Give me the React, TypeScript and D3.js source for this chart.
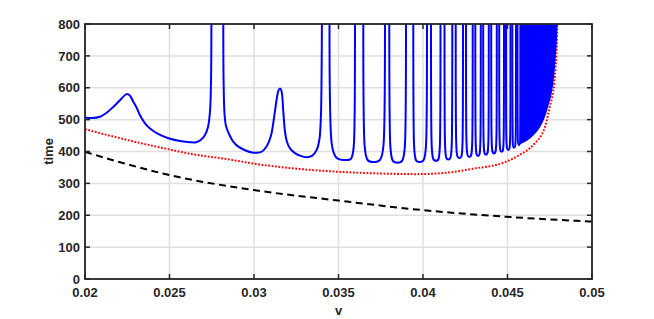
import React from 'react';
import * as d3 from 'd3';

const W = 654;
const H = 319;
const plot = { left: 85, right: 592, top: 24, bottom: 279 };

const xTicks = [0.02, 0.025, 0.03, 0.035, 0.04, 0.045, 0.05];
const xTickLabels = ['0.02', '0.025', '0.03', '0.035', '0.04', '0.045', '0.05'];
const yTicks = [0, 100, 200, 300, 400, 500, 600, 700, 800];

// blue: start of the curve up to the first wall that leaves the top
const headV = [0.02, 0.020414, 0.020888, 0.021243, 0.021657, 0.022071, 0.022467, 0.022663, 0.022858, 0.023077,
  0.023254, 0.023651, 0.024024, 0.024438, 0.02503, 0.025621, 0.026213, 0.026568, 0.026864, 0.027101,
  0.027278, 0.027396, 0.027456, 0.027479];
const headT = [507, 505, 509, 520, 539, 561, 580, 575, 556, 535,
  514, 482, 465, 452, 440, 433, 429, 429, 437, 452,
  477, 525, 620, 800];

// blue: back down from the top, the bump near 0.0315, up again at 0.034
const midV = [0.028183, 0.028201, 0.028254, 0.028343, 0.028521, 0.028757, 0.029053, 0.029467, 0.029882, 0.030178,
  0.030473, 0.030769, 0.031006, 0.031183, 0.031331, 0.03145, 0.031538, 0.031627, 0.031734, 0.031834,
  0.031953, 0.03213, 0.032426, 0.032722, 0.033118, 0.033432, 0.03371, 0.033876, 0.033964, 0.034, 0.034018];
const midT = [800, 620, 520, 480, 455, 432, 416, 404, 397, 396,
  400, 418, 450, 505, 560, 592, 598, 590, 525, 462,
  430, 410, 395, 387, 382, 386, 405, 440, 520, 650, 800];

// blue: wells between the spikes (wall coming down, bottom, wall going up)
const wellDown = [0.034467, 0.036467, 0.038006, 0.039426, 0.040473, 0.041272, 0.041935, 0.042544,
  0.043095, 0.043562, 0.044036, 0.044509, 0.044911, 0.045284, 0.045592];
const wellMinV = [0.035485, 0.037059, 0.038479, 0.039781, 0.040769, 0.041497, 0.04216, 0.042751,
  0.043254, 0.043728, 0.044201, 0.044657, 0.045047, 0.045385, 0.04568];
const wellMinT = [373, 367, 365, 367, 371, 375, 379, 383, 386, 390, 394, 399, 405, 412, 420];
const wellUp = [0.035976, 0.037751, 0.038994, 0.040237, 0.041036, 0.041734, 0.042367, 0.042941,
  0.04342, 0.043893, 0.044367, 0.044793, 0.045178, 0.045503, 0.045769];

// blue: lower edge of the packed spikes near the end
const bandV = [0.045769, 0.045976, 0.046213, 0.046509, 0.046805, 0.047041, 0.047249, 0.047426, 0.047604,
  0.047722, 0.047811, 0.047882, 0.047917];
const bandT = [426, 431, 439, 452, 470, 492, 520, 552, 592, 640, 695, 755, 800];

const redV = [0.02, 0.022663, 0.02503, 0.026213, 0.028402, 0.03, 0.03213, 0.034497, 0.036864, 0.039586,
  0.041302, 0.042959, 0.044817, 0.04574, 0.046509, 0.047219, 0.047544, 0.04771, 0.04784, 0.047911, 0.047947];
const redT = [470, 434, 406, 393, 376, 362, 348, 338, 332, 329,
  333, 346, 366, 390, 420, 478, 550, 590, 660, 720, 800];

const blackV = [0.02, 0.0225, 0.025, 0.03, 0.035, 0.04, 0.045, 0.05];
const blackT = [399, 360, 326, 279, 246, 216, 195, 180];

const font = '"Liberation Sans", Arial, Helvetica, sans-serif';
const axisColor = '#262626';

export default function App() {
  const x = d3.scaleLinear().domain([0.02, 0.05]).range([plot.left, plot.right]);
  const y = d3.scaleLinear().domain([0, 800]).range([plot.bottom, plot.top]);

  const smooth = d3.line<number>()
    .curve(d3.curveCatmullRom.alpha(0.5));

  const headPath = smooth(headV.map((v, i) => [x(v), y(headT[i])]) as any);
  const midPath = smooth(midV.map((v, i) => [x(v), y(midT[i])]) as any);

  const wellPaths = wellDown.map((v, i) => {
    const xr = x(v);
    const xm = x(wellMinV[i]);
    const xl = x(wellUp[i]);
    const yt = y(800);
    const ym = y(wellMinT[i]);
    const p = d3.path();
    p.moveTo(xr, yt - 4);
    p.lineTo(xr, yt);
    p.bezierCurveTo(xr, ym, xr, ym, xm, ym);
    p.bezierCurveTo(xl, ym, xl, ym, xl, yt);
    p.lineTo(xl, yt - 4);
    return p.toString();
  });

  const bandPath = d3.area<number>()
    .x(v => x(v))
    .y0(y(800) - 4)
    .y1((v, i) => y(bandT[i]))
    .curve(d3.curveMonotoneX)(bandV);

  const redPath = d3.line<number>()
    .x(v => x(v))
    .y((v, i) => y(redT[i]))
    .curve(d3.curveMonotoneX)(redV);

  const blackPath = d3.line<number>()
    .x(v => x(v))
    .y((v, i) => y(blackT[i]))
    .curve(d3.curveMonotoneX)(blackV);

  const tickLen = 5;

  return (
    <svg width={W} height={H} style={{ position: 'absolute', left: 0, top: 0, background: '#fff' }}>
      <defs>
        <clipPath id="plotClip">
          <rect x={plot.left} y={plot.top} width={plot.right - plot.left} height={plot.bottom - plot.top} />
        </clipPath>
      </defs>
      <rect x={0} y={0} width={W} height={H} fill="#fff" />
      <g>
        {xTicks.map(t => (
          <line key={'gx' + t} x1={x(t)} x2={x(t)} y1={plot.top} y2={plot.bottom} stroke="#dfdfdf" strokeWidth={1.5} />
        ))}
        {yTicks.map(t => (
          <line key={'gy' + t} x1={plot.left} x2={plot.right} y1={y(t)} y2={y(t)} stroke="#dfdfdf" strokeWidth={1.5} />
        ))}
      </g>
      <g clipPath="url(#plotClip)">
        <path d={blackPath || ''} fill="none" stroke="#000" strokeWidth={2} strokeDasharray="7,4.5" />
        <path d={redPath || ''} fill="none" stroke="#ff0000" strokeWidth={2} strokeDasharray="1.8,1.6" />
        <path d={headPath || ''} fill="none" stroke="#0000ff" strokeWidth={2} />
        <path d={midPath || ''} fill="none" stroke="#0000ff" strokeWidth={2} />
        {wellPaths.map((d, i) => (
          <path key={'w' + i} d={d} fill="none" stroke="#0000ff" strokeWidth={2} />
        ))}
        <path d={bandPath || ''} fill="#0000ff" stroke="#0000ff" strokeWidth={1.5} />
      </g>
      <g stroke={axisColor} strokeWidth={1.5}>
        {xTicks.map(t => (
          <g key={'tx' + t}>
            <line x1={x(t)} x2={x(t)} y1={plot.bottom} y2={plot.bottom - tickLen} />
            <line x1={x(t)} x2={x(t)} y1={plot.top} y2={plot.top + tickLen} />
          </g>
        ))}
        {yTicks.map(t => (
          <g key={'ty' + t}>
            <line x1={plot.left} x2={plot.left + tickLen} y1={y(t)} y2={y(t)} />
            <line x1={plot.right} x2={plot.right - tickLen} y1={y(t)} y2={y(t)} />
          </g>
        ))}
        <rect x={plot.left} y={plot.top} width={plot.right - plot.left} height={plot.bottom - plot.top}
          fill="none" strokeWidth={1.8} />
      </g>
      <g fontFamily={font} fontWeight="bold" fontSize={13} fill={axisColor}>
        {xTicks.map((t, i) => (
          <text key={'lx' + t} x={x(t)} y={297} textAnchor="middle">{xTickLabels[i]}</text>
        ))}
        {yTicks.map(t => (
          <text key={'ly' + t} x={plot.left - 5} y={y(t)} dy="0.36em" textAnchor="end">{t}</text>
        ))}
        <text x={(plot.left + plot.right) / 2} y={315} textAnchor="middle">v</text>
        <text transform={`translate(53, ${(plot.top + plot.bottom) / 2}) rotate(-90)`} textAnchor="middle">time</text>
      </g>
    </svg>
  );
}
